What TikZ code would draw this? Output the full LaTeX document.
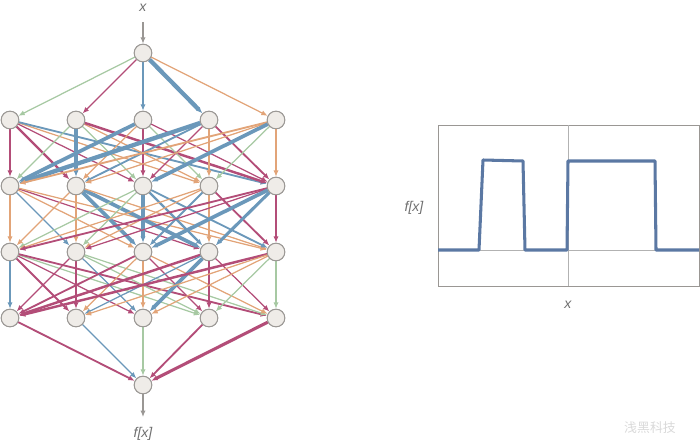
\documentclass[tikz,border=0pt]{standalone}
\usepackage{fontspec}
\usepackage{tikz}
\usetikzlibrary{positioning, arrows.meta, calc}
\newfontfamily\lblfont{Liberation Sans}
\newfontfamily\cjk{Noto Sans CJK SC}
\definecolor{nnblue}{HTML}{6B98BA}
\definecolor{nnpink}{HTML}{B34D78}
\definecolor{nnorange}{HTML}{E2A478}
\definecolor{nngreen}{HTML}{A7C9A3}
\definecolor{nodefill}{HTML}{EFECE8}
\definecolor{nodeline}{HTML}{9A9794}
\definecolor{plotblue}{HTML}{5B78A3}
\definecolor{labelgray}{HTML}{707070}

\begin{document}
\begin{tikzpicture}[x=0.03cm, y=-0.03cm,
    neuron/.style={circle, fill=nodefill, draw=nodeline, line width=0.8pt,
                   minimum size=15pt, inner sep=0pt},
    wire/.style={-{Latex[length=5.5pt,width=4.5pt]}},
    lbl/.style={font=\lblfont\itshape\fontsize{12}{14}\selectfont, text=labelgray}]
  \useasboundingbox (0,0) rectangle (700,445);

  % network
  \node[neuron] (in) at (143,53) {};
  \foreach \r/\y in {1/120,2/186,3/252,4/318}
    \foreach \c/\x in {1/10,2/76,3/143,4/209,5/276}
      \node[neuron] (h\r\c) at (\x,\y) {};
  \node[neuron] (out) at (143,385) {};

  \node[lbl] (xin) at (143,8) {x};
  \node[lbl] (fout) at (143,434) {f[x]};
  \coordinate (inTop) at (143,22);
  \coordinate (outEnd) at (143,417);
  \draw[wire, nodeline, line width=1pt] (inTop) -- (in);
  \draw[wire, nodeline, line width=1pt] (out) -- (outEnd);

  \foreach \a/\b/\col/\w in {
      in/h11/nngreen/1, in/h12/nnpink/1, in/h13/nnblue/2, in/h14/nnblue/3.5, in/h15/nnorange/1,
      h11/h21/nnpink/1, h11/h22/nnpink/2, h11/h23/nnpink/1, h11/h24/nnorange/1, h11/h25/nnblue/1.5,
      h12/h21/nngreen/1, h12/h22/nnblue/2.5, h12/h23/nngreen/1, h12/h24/nnorange/1, h12/h25/nnpink/2,
      h13/h21/nnblue/3, h13/h22/nnorange/1, h13/h23/nnpink/1.5, h13/h24/nngreen/1, h13/h25/nnpink/1,
      h14/h21/nnblue/3.5, h14/h22/nnblue/1.5, h14/h23/nnpink/1, h14/h24/nnorange/1, h14/h25/nnpink/1.5,
      h15/h21/nnorange/1.5, h15/h22/nnorange/1, h15/h23/nnblue/3, h15/h24/nngreen/1, h15/h25/nnorange/1,
      h21/h31/nnorange/1, h21/h32/nnblue/1, h21/h33/nnorange/1, h21/h34/nnpink/1, h21/h35/nnorange/1,
      h22/h31/nnorange/1, h22/h32/nnorange/1, h22/h33/nnblue/3, h22/h34/nnblue/3, h22/h35/nnorange/1,
      h23/h31/nngreen/1, h23/h32/nngreen/1, h23/h33/nnblue/2.5, h23/h34/nnblue/2, h23/h35/nnblue/1.5,
      h24/h31/nnorange/1, h24/h32/nnorange/1, h24/h33/nnblue/1.5, h24/h34/nnorange/1, h24/h35/nnpink/1.5,
      h25/h31/nnpink/1.5, h25/h32/nnpink/1, h25/h33/nnblue/3, h25/h34/nnblue/2.5, h25/h35/nnpink/1.5,
      h31/h41/nnblue/1.5, h31/h42/nnpink/1.5, h31/h43/nnpink/1, h31/h44/nngreen/1, h31/h45/nnpink/1.5,
      h32/h41/nnpink/1, h32/h42/nnpink/1, h32/h43/nnblue/1, h32/h44/nngreen/1, h32/h45/nngreen/1,
      h33/h41/nnpink/1.5, h33/h42/nnorange/1, h33/h43/nnorange/1, h33/h44/nnpink/1, h33/h45/nnorange/1,
      h34/h41/nnpink/2, h34/h42/nnblue/1, h34/h43/nnblue/3, h34/h44/nnpink/1.5, h34/h45/nnpink/1,
      h35/h41/nnpink/2, h35/h42/nnorange/1, h35/h43/nnorange/1, h35/h44/nngreen/1, h35/h45/nngreen/1,
      h41/out/nnpink/1.5, h42/out/nnblue/1, h43/out/nngreen/1, h44/out/nnpink/1.5, h45/out/nnpink/2.5}
    \draw[wire, draw=\col, fill=\col, line width={\w*1.05pt}] (\a) -- (\b);

  % redraw nodes on top of the wires
  \foreach \r/\y in {1/120,2/186,3/252,4/318}
    \foreach \c/\x in {1/10,2/76,3/143,4/209,5/276}
      \node[neuron] at (\x,\y) {};
  \node[neuron] at (143,53) {};
  \node[neuron] at (143,385) {};

  % plot of f[x]
  \draw[nodeline, line width=0.8pt] (438,125) rectangle (699,286);
  \draw[gray!60, line width=0.8pt] (438,250) -- (699,250);
  \draw[gray!60, line width=0.8pt] (568,125) -- (568,286);
  \draw[plotblue, line width=2.6pt, line join=round]
    (438,250) -- (479,250) -- (483,160) -- (523,161) -- (525,250) -- (567,250)
    -- (568,161) -- (655,161) -- (656,250) -- (699,250);
  \node[lbl] (fy) at (414,208) {f[x]};
  \node[lbl] (xx) at (568,305) {x};

  \node[text=gray!30, font=\cjk\fontsize{11}{13}\selectfont] (mark) at (650,428) {浅黑科技};
\end{tikzpicture}
\end{document}
